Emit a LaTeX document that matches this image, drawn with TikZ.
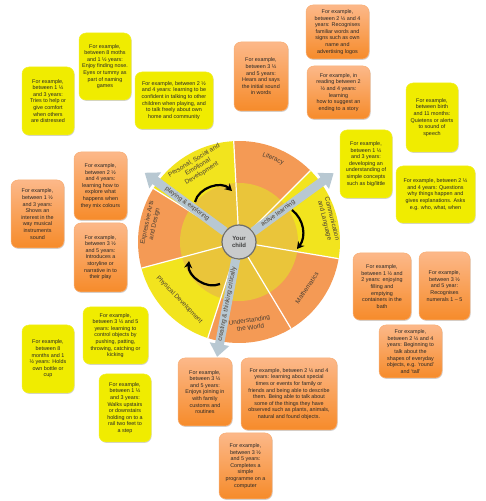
\documentclass[tikz,border=0pt]{standalone}
\usepackage{fontspec}
\setmainfont{Liberation Sans}
\usepackage{tikz}
\usepackage{xcolor}
\usetikzlibrary{arrows.meta,shadows,calc}
\definecolor{EYYellow}{HTML}{F0EC00}
\definecolor{EYOrangeTop}{HTML}{FCB889}
\definecolor{EYOrangeBot}{HTML}{F68B2A}
\definecolor{EYOrangeLine}{HTML}{F8AE74}
\definecolor{WheelYellow}{HTML}{F2E41E}
\definecolor{WheelOrange}{HTML}{F49A55}
\definecolor{WheelGold}{HTML}{EAC53A}
\definecolor{WheelText}{HTML}{4B3F33}
\definecolor{ArrowGrey}{HTML}{B8C8D2}
\definecolor{ChildGrey}{HTML}{C9CBCC}
\definecolor{ChildLine}{HTML}{6E6E6E}
\tikzset{
    % Base example box
    basebox/.style={
        rounded corners=7pt,
        align=center,
        inner sep=1pt,
        font=\fontsize{5.4}{6.6}\selectfont,
        text=black!85,
        drop shadow={shadow xshift=0.7pt, shadow yshift=-0.9pt, fill=black, opacity=0.18}
    },
    % Prime area box
    ybox/.style={
        basebox,
        fill=EYYellow,
        draw=EYYellow!85!white,
        line width=0.5pt
    },
    % Specific area box
    obox/.style={
        basebox,
        top color=EYOrangeTop,
        bottom color=EYOrangeBot,
        draw=EYOrangeLine,
        line width=0.5pt
    },
    % Box size
    sz/.style 2 args={
        minimum width=#1pt,
        minimum height=#2pt
    },
    % Area names on the wheel
    arealabel/.style={
        font=\fontsize{6.4}{7.4}\selectfont,
        text=WheelText,
        align=center,
        inner sep=0pt
    },
    % Grey learning arrows
    learnarrow/.style={
        draw=ArrowGrey,
        line width=9pt,
        -{Triangle[length=13pt, width=19pt]}
    },
    learnlabel/.style={
        font=\fontsize{6.3}{7}\selectfont,
        text=WheelText,
        sloped,
        inner sep=0pt
    },
    % Black turning arrows
    turnarrow/.style={
        draw=black,
        line width=2.2pt,
        -{Stealth[length=7pt, width=8pt]}
    }
}
\begin{document}
\begin{tikzpicture}[x=1pt, y=1pt]
        \useasboundingbox (0,0) rectangle (485,501);
        \coordinate (c) at (239,259);

        % Wheel
        \foreach \a/\b/\col in {93/148/WheelYellow, 45/93/WheelOrange, -9.5/45/WheelYellow, -59/-9.5/WheelOrange, -108/-59/WheelOrange, -165/-108/WheelYellow, 148/195/WheelOrange}
            \fill[\col] (c) -- ++(\a:101) arc[start angle=\a, end angle=\b, radius=101] -- cycle;
        \fill[WheelGold] (c) circle[radius=59];
        \foreach \a in {93, 45, -9.5, -59, -108, -165, 148}
            \draw[white, line width=1.2pt] (c) -- ++(\a:101);

        % Area names
        \node[arealabel, rotate=31] (psed) at ($(c)+(118.7:85.5)$) {Personal, Social and\\Emotional\\Development};
        \node[arealabel, rotate=-22] (lit) at ($(c)+(67.7:90)$) {Literacy};
        \node[arealabel, rotate=-76] (cl) at ($(c)+(14:92)$) {Communication\\and Language};
        \node[arealabel, rotate=56] (ma) at ($(c)+(-34:82)$) {Mathematics};
        \node[arealabel, rotate=9] (uw) at ($(c)+(-82.4:82.5)$) {Understanding\\the World};
        \node[arealabel, rotate=-46] (pd) at ($(c)+(-136:83)$) {Physical Development};
        \node[arealabel, rotate=78] (ead) at ($(c)+(168:90)$) {Expressive Arts\\and Design};

        % Centre and learning arrows
        \node[circle, draw=ChildLine, line width=1.2pt, fill=ChildGrey, minimum size=34pt, inner sep=0pt,
              font=\fontsize{6}{7}\selectfont\bfseries, align=center, text=black!75] (child) at (c) {Your\\child};
        \coordinate (pe tip) at ($(c)+(143.7:117)$);
        \coordinate (al tip) at ($(c)+(36:117)$);
        \coordinate (ct tip) at ($(c)+(-100.8:117)$);
        \draw[learnarrow] (child) -- (pe tip) node[learnlabel, pos=0.47] {playing \& exploring};
        \draw[learnarrow] (child) -- (al tip) node[learnlabel, pos=0.31] {active learning};
        \draw[learnarrow] (child) -- (ct tip) node[learnlabel, pos=0.46] {creating \& thinking critically};

        % Turning arrows
        \coordinate (t1s) at (195,299);
        \coordinate (t1e) at (232,310);
        \coordinate (t2s) at (292,291);
        \coordinate (t2e) at (297,252);
        \coordinate (t3s) at (220,217);
        \coordinate (t3e) at (189,240);
        \draw[turnarrow] (t1s) to[bend left=60] (t1e);
        \draw[turnarrow] (t2s) to[bend left=45] (t2e);
        \draw[turnarrow] (t3s) to[bend left=60] (t3e);

        % Personal, Social and Emotional Development
        \node[ybox, sz={52}{67}] (pse1) at (105,434.5) {For example,\\between 8 moths\\and 1 ½ years:\\Enjoy finding nose.\\Eyes or tummy as\\part of naming\\games};
        \node[ybox, sz={52}{68}] (pse2) at (48,400) {For example,\\between 1 ½\\and 3 years:\\Tries to help or\\give comfort\\when others\\are distressed};
        \node[ybox, sz={78}{57}] (pse3) at (174,400.5) {For example, between 2 ½\\and 4 years: learning to be\\confident in talking to other\\children when playing, and\\to talk freely about own\\home and community};

        % Literacy
        \node[obox, sz={54}{69}] (lit1) at (261,424.5) {For example,\\between 3 ½\\and 5 years:\\Hears and says\\the initial sound\\in words};
        \node[obox, sz={63}{54}] (lit2) at (337.5,469) {For example,\\between 2 ½ and 4\\years: Recognises\\familiar words and\\signs such as own\\name and\\advertising logos};
        \node[obox, sz={63}{53}] (lit3) at (338.5,408.5) {For example, in\\reading between 2\\½ and 4 years:\\learning\\how to suggest an\\ending to a story};

        % Communication and Language
        \node[ybox, sz={52}{69}] (cl1) at (432,383.5) {For example,\\between birth\\and 11 months:\\Quietens or alerts\\to sound of\\speech};
        \node[ybox, sz={52}{68}] (cl2) at (366,337) {For example,\\between 1 ½\\and 3 years:\\developing an\\understanding of\\simple concepts\\such as big/little};
        \node[ybox, sz={79}{57}] (cl3) at (435.5,306.5) {For example, between 2 ½\\and 4 years: Questions\\why things happen and\\gives explanations. Asks\\e.g. who, what, when};

        % Mathematics
        \node[obox, sz={58}{67}] (ma1) at (382,214.5) {For example,\\between 1 ½ and\\2 years: enjoying\\filling and\\emptying\\containers in the\\bath};
        \node[obox, sz={51}{68}] (ma2) at (444.5,215) {For example,\\between 3 ½\\and 5 year:\\Recognises\\numerals 1 – 5};
        \node[obox, sz={63}{53}] (ma3) at (410.5,149.5) {For example,\\between 2 ½ and 4\\years: Beginning to\\talk about the\\shapes of everyday\\objects, e.g. ‘round’\\and ‘tall’};

        % Understanding the World
        \node[obox, sz={54}{68}] (uw1) at (205,109) {For example,\\between 3 ½\\and 5 years:\\Enjoys joining in\\with family\\customs and\\routines};
        \node[obox, sz={96}{72}] (uw2) at (289,107) {For example, between 2 ½ and 4\\years: learning about special\\times or events for family or\\friends and being able to describe\\them. Being able to talk about\\some of the things they have\\observed such as plants, animals,\\natural and found objects.};
        \node[obox, sz={53}{66}] (uw3) at (245.5,35) {For example,\\between 3 ½\\and 5 years:\\Completes a\\simple\\programme on a\\computer};

        % Expressive Arts and Design
        \node[obox, sz={53}{68}] (ead1) at (100.5,315) {For example,\\between 2 ½\\and 4 years:\\learning how to\\explore what\\happens when\\they mix colours};
        \node[obox, sz={53}{68}] (ead2) at (37.5,287) {For example,\\between 1 ½\\and 3 years:\\Shows an\\interest in the\\way musical\\instruments\\sound};
        \node[obox, sz={53}{69}] (ead3) at (100.5,243.5) {For example,\\between 3 ½\\and 5 years:\\Introduces a\\storyline or\\narrative in to\\their play};

        % Physical Development
        \node[ybox, sz={52}{68}] (pd1) at (48,142) {For example,\\between 8\\months and 1\\½ years: Holds\\own bottle or\\cup};
        \node[ybox, sz={65}{57}] (pd2) at (115.5,165.5) {For example,\\between 3 ½ and 5\\years: learning to\\control objects by\\pushing, patting,\\throwing, catching or\\kicking};
        \node[ybox, sz={52}{68}] (pd3) at (125,93) {For example,\\between 1 ½\\and 3 years:\\Walks upstairs\\or downstairs\\holding on to a\\rail two feet to\\a step};
    \end{tikzpicture}
\end{document}
